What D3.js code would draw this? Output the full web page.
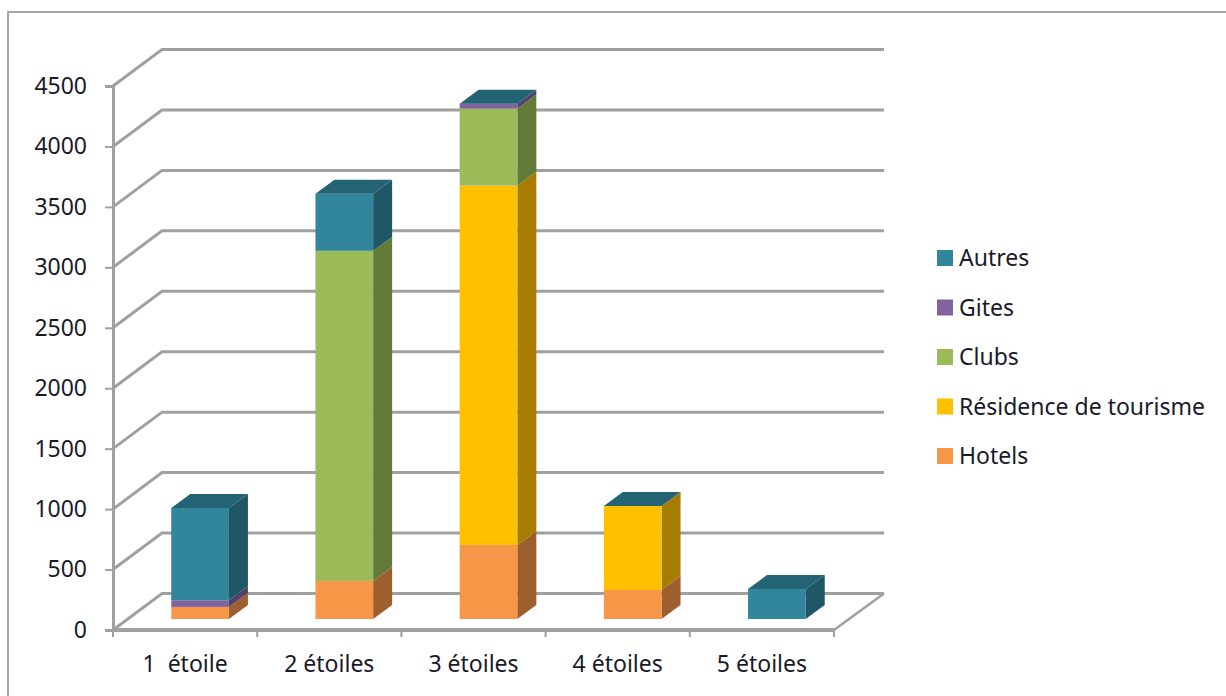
<!DOCTYPE html>
<html>
<head>
<meta charset="utf-8">
<script src="https://cdn.jsdelivr.net/npm/d3@7/dist/d3.min.js"></script>
<style>
	html, body { margin: 0; padding: 0; background: #fff; }
	svg { display: block; }
	text { font-family: "Noto Sans", sans-serif; font-size: 23px; fill: #1a1a2a; }
	.tick text { font-size: 23px; font-family: "Noto Sans", sans-serif; }
</style>
</head>
<body>
<div id="chart"></div>
<script>
(function () {
	'use strict';

	var categories = ["1  étoile", "2 étoiles", "3 étoiles", "4 étoiles", "5 étoiles"];
	var seriesNames = ["Hotels", "Résidence de tourisme", "Clubs", "Gites", "Autres"];
	var hotels = [100, 315, 613, 240, 0];
	var residences = [0, 0, 2972, 695, 0];
	var clubs = [0, 2731, 637, 0, 0];
	var gites = [55, 0, 41, 0, 0];
	var autres = [764, 472, 0, 0, 248];
	var yTicks = [0, 500, 1000, 1500, 2000, 2500, 3000, 3500, 4000, 4500];

	var faceColors = ["#f79646", "#ffc000", "#9bbb59", "#8064a2", "#31859c"];
	var sideColors = ["#9c5f2d", "#a67d00", "#647a39", "#53416a", "#1f5766"];
	var topColor = "#246373";
	var gridColor = "#a0a0a0";

	var width = 1226, height = 696;

	// plot box on the front plane, walls are offset by the depth vector
	var left = 113, right = 834, bottom = 630, top = 86;
	var wallDx = 49, wallDy = -36.5;
	var barDx = 19, barDy = -14;
	var barShiftX = 15, barShiftY = -11;

	var svg = d3.select("#chart").append("svg")
		.attr("width", width)
		.attr("height", height);

	var rows = categories.map(function (c, i) {
		return {
			category: c,
			s0: hotels[i], s1: residences[i], s2: clubs[i], s3: gites[i], s4: autres[i]
		};
	});
	var stacked = d3.stack().keys(["s0", "s1", "s2", "s3", "s4"])(rows);

	var x = d3.scaleBand().domain(categories).range([left, right]).paddingInner(0.6).paddingOuter(0.3);
	var y = d3.scaleLinear().domain([0, 4500]).range([bottom, top]);
	var band = d3.scaleBand().domain(categories).range([left, right]);

	// outer frame
	svg.append("rect")
		.attr("x", 8).attr("y", 12)
		.attr("width", 1240).attr("height", 720)
		.attr("fill", "#fff")
		.attr("stroke", "#a6a6a6")
		.attr("stroke-width", 2);

	// back wall gridlines and left wall diagonals
	var grid = svg.append("g")
		.attr("fill", "none")
		.attr("stroke", gridColor)
		.attr("stroke-width", 3);

	grid.selectAll("path.grid").data(yTicks).enter().append("path")
		.attr("class", "grid")
		.attr("d", function (d) {
			return d3.line()([
				[left, y(d)],
				[left + wallDx, y(d) + wallDy],
				[right + wallDx + 1, y(d) + wallDy]
			]);
		});

	// floor edge
	grid.append("path")
		.attr("d", d3.line()([[right, bottom], [right + wallDx + 1, bottom + wallDy]]))
		.attr("stroke-width", 2.5);

	// axes
	var yAxis = d3.axisLeft(y).tickValues(yTicks).tickSize(8).tickPadding(18).tickFormat(d3.format("d"));
	var yG = svg.append("g").attr("transform", "translate(" + left + ",0)").call(yAxis);
	yG.select(".domain").attr("stroke", gridColor).attr("stroke-width", 3);
	yG.selectAll("line").attr("stroke", gridColor).attr("stroke-width", 2);
	yG.selectAll("text").attr("fill", "#1a1a2a");

	var xAxis = d3.axisBottom(band).tickSize(7).tickPadding(19);
	var xG = svg.append("g").attr("transform", "translate(0," + bottom + ")").call(xAxis);
	xG.select(".domain").attr("stroke", gridColor).attr("stroke-width", 4).attr("d", "M" + left + ",0H" + right);
	xG.selectAll(".tick line").attr("stroke", "none");
	xG.selectAll(".tick text").attr("fill", "#1a1a2a").style("white-space", "pre");
	xG.selectAll("line.edge")
		.data(d3.range(categories.length + 1))
		.enter().append("line")
		.attr("class", "edge")
		.attr("x1", function (d) { return left + d * band.step(); })
		.attr("x2", function (d) { return left + d * band.step(); })
		.attr("y1", 0).attr("y2", 7)
		.attr("stroke", gridColor)
		.attr("stroke-width", 2);

	// bars: the front plane of each column sits a little inside the floor
	function barX(c) { return x(c) + barShiftX; }
	function barY(v) { return y(v) + barShiftY; }

	var bars = svg.append("g");
	stacked.forEach(function (layer, si) {
		var cells = layer.map(function (d) { return { c: d.data.category, y0: d[0], y1: d[1] }; })
			.filter(function (d) { return d.y1 > d.y0; });

		// side face
		bars.selectAll("path.side" + si).data(cells).enter().append("path")
			.attr("fill", sideColors[si])
			.attr("d", function (d) {
				var xr = barX(d.c) + x.bandwidth();
				return d3.line()([
					[xr, barY(d.y0)],
					[xr + barDx, barY(d.y0) + barDy],
					[xr + barDx, barY(d.y1) + barDy],
					[xr, barY(d.y1)]
				]) + "Z";
			});

		// front face
		bars.selectAll("rect.face" + si).data(cells).enter().append("rect")
			.attr("x", function (d) { return barX(d.c); })
			.attr("y", function (d) { return barY(d.y1); })
			.attr("width", x.bandwidth())
			.attr("height", function (d) { return barY(d.y0) - barY(d.y1); })
			.attr("fill", faceColors[si]);
	});

	// cap of each column, always in the colour of the last series
	bars.selectAll("path.cap").data(rows).enter().append("path")
		.attr("fill", topColor)
		.attr("d", function (d) {
			var v = d.s0 + d.s1 + d.s2 + d.s3 + d.s4;
			var xl = barX(d.category), xr = xl + x.bandwidth(), yt = barY(v);
			return d3.line()([
				[xl, yt],
				[xr, yt],
				[xr + barDx, yt + barDy],
				[xl + barDx, yt + barDy]
			]) + "Z";
		});

	// legend, top entry is the last series
	var legendY = d3.scalePoint()
		.domain(seriesNames.slice().reverse())
		.range([258, 456]);

	var legend = svg.append("g").selectAll("g").data(seriesNames).enter().append("g")
		.attr("transform", function (d) { return "translate(937," + legendY(d) + ")"; });
	legend.append("rect")
		.attr("x", 0).attr("y", -8)
		.attr("width", 16).attr("height", 16)
		.attr("fill", function (d, i) { return faceColors[i]; });
	legend.append("text")
		.attr("x", 22).attr("dy", "0.35em")
		.text(function (d) { return d; });
}());
</script>
</body>
</html>
